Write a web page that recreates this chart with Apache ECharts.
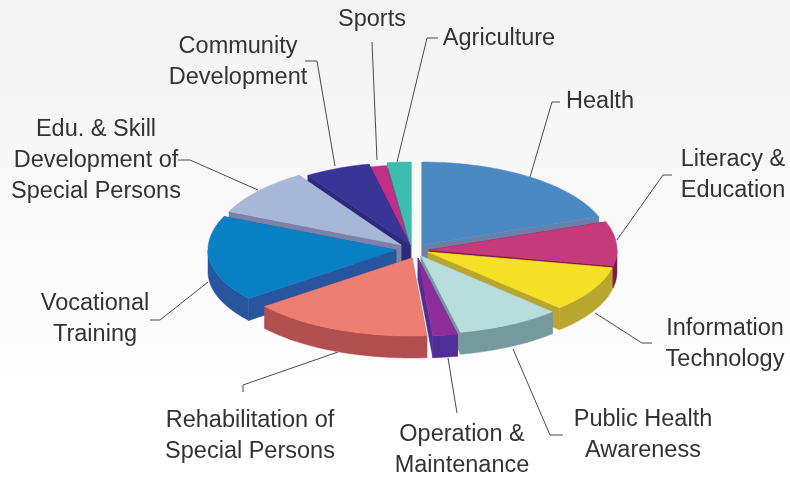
<!DOCTYPE html>
<html>
<head>
<meta charset="utf-8">
<style>html,body{margin:0;padding:0;background:#fff}#c{width:790px;height:479px}</style>
<script src="https://cdn.jsdelivr.net/npm/echarts@6/dist/echarts.min.js"></script>
</head>
<body>
<div id="c"></div>
<script>
// data (percent shares, clockwise from 12 o'clock)
const categories = ['Health','Literacy &\nEducation','Information\nTechnology','Public Health\nAwareness','Operation &\nMaintenance','Rehabilitation of\nSpecial Persons','Vocational\nTraining','Edu. & Skill\nDevelopment of\nSpecial Persons','Community\nDevelopment','Sports','Agriculture'];
const shares = [19.4, 8.7, 9.4, 8.9, 2.1, 15.5, 17.2, 9.2, 5.6, 1.5, 2.0];

// styling
const topColors  = ['#4c88c3','#c53a7d','#f6df27','#b9dcdd','#8e2c99','#ee7e71','#0a80c4','#a6b7d8','#3a3497','#c22f86','#3dbdb1'];
const wallColors = ['#6a80a6','#7d1b45','#b8a62e','#76999e','#4f2f96','#b14e50','#27569f','#7d80a8','#2c2a7c','#8d2068','#2f9088'];
// layout
const pieLayout = {cx:415, cy:250, rx:188, ryBack:83, ryFront:78, depth:22};
const shiftX = [7,14,13,6,3,-3,-19,-14,-5,-5,-4];
const shiftY = [-5,0,2,6,8,8,0,-5,-5,-2,-5];
const labelX = [600,733,725,643,462,250,95,96,238,372,499];
const labelY = [102,175,344,435,450,436,319,161,62,20,39];
const leaderLines = [
  [[530,177],[552,102],[560,102]],
  [[617,240],[663,175],[672,175]],
  [[595,313],[642,343],[652,343]],
  [[513,349],[550,435],[563,435]],
  [[448,358],[457,413]],
  [[338,352],[243,385],[243,392]],
  [[208,282],[160,320],[150,320]],
  [[258,190],[190,160],[178,160]],
  [[335,166],[317,61],[305,61]],
  [[377,160],[372,42]],
  [[397,162],[427,38],[438,38]]
];

const total = shares.reduce((a,b)=>a+b,0);
const startAngle = shares.map((_,i)=>shares.slice(0,i).reduce((a,b)=>a+b,0)/total*Math.PI*2);

function rimPoint(cx,cy,t,dz){
  const c=Math.cos(t), ry=c>0?pieLayout.ryBack:pieLayout.ryFront;
  return [cx+pieLayout.rx*Math.sin(t), cy-ry*c+(dz||0)];
}
function poly(points,fill,z2){
  return {type:'polygon',shape:{points:points},style:{fill:fill,stroke:fill,lineWidth:0.5},z2:z2};
}
function renderSlice(params,api){
  const i=params.dataIndex, a0=startAngle[i], a1=a0+api.value(0)/total*Math.PI*2;
  const cx=pieLayout.cx+shiftX[i], cy=pieLayout.cy+shiftY[i], d=pieLayout.depth;
  const mid=(a0+a1)/2, z=Math.round(100-Math.cos(mid)*90);
  const n=Math.max(6,Math.ceil((a1-a0)/0.02));
  const rim=[]; for(let k=0;k<=n;k++) rim.push(rimPoint(cx,cy,a0+(a1-a0)*k/n,0));
  const apex=[cx,cy];
  const children=[];
  // cut faces
  [rim[0],rim[n]].forEach(p=>children.push(poly([apex,p,[p[0],p[1]+d],[cx,cy+d]],wallColors[i],z)));
  // outer wall, front half only
  const wf=Math.max(a0,Math.PI/2), wt=Math.min(a1,Math.PI*1.5);
  if(wt>wf){
    const up=[],down=[];
    for(let k=0;k<=n;k++){const t=wf+(wt-wf)*k/n; up.push(rimPoint(cx,cy,t,0)); down.unshift(rimPoint(cx,cy,t,d));}
    children.push(poly(up.concat(down),wallColors[i],z));
  }
  // top face
  children.push(poly([apex].concat(rim),topColors[i],z));
  // leader line and label
  children.push({type:'polyline',shape:{points:leaderLines[i]},style:{stroke:'#4a4a4a',lineWidth:1,fill:null},z2:1});
  children.push({type:'text',x:labelX[i],y:labelY[i],z2:300,style:{text:categories[i],font:'23.5px "Liberation Sans", Arial, sans-serif',fill:'#333333',align:'center',verticalAlign:'middle',lineHeight:31}});
  return {type:'group',children:children};
}

const chart=echarts.init(document.getElementById('c'),null,{renderer:'canvas'});
chart.setOption({
  animation:false,
  backgroundColor:{type:'linear',x:0,y:0,x2:0,y2:1,colorStops:[{offset:0,color:'#f3f3f3'},{offset:0.7,color:'#fcfcfc'},{offset:0.8,color:'#ffffff'},{offset:1,color:'#ffffff'}]},
  series:[{type:'custom',coordinateSystem:'none',silent:true,renderItem:renderSlice,
    data:shares.map((v,i)=>({name:categories[i],value:[v]}))}]
});
</script>
</body>
</html>
